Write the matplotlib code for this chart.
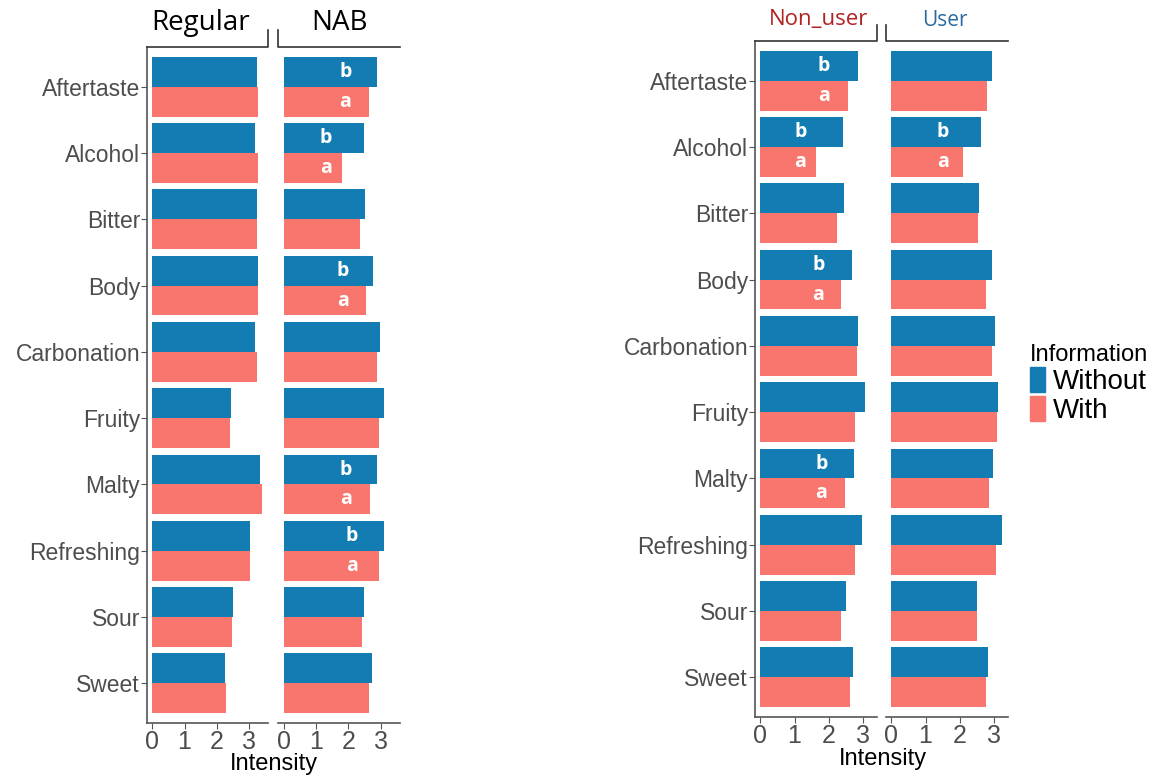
import matplotlib.pyplot as plt
from matplotlib.lines import Line2D
from matplotlib.patches import Patch

W, H = 1159, 776

attributes = ['Aftertaste', 'Alcohol', 'Bitter', 'Body', 'Carbonation',
              'Fruity', 'Malty', 'Refreshing', 'Sour', 'Sweet']

# left figure: beer type
regular_without = [3.26, 3.20, 3.26, 3.30, 3.20, 2.46, 3.35, 3.05, 2.52, 2.25]
regular_with = [3.30, 3.30, 3.26, 3.30, 3.26, 2.43, 3.42, 3.05, 2.49, 2.28]
nab_without = [2.88, 2.50, 2.52, 2.78, 2.97, 3.10, 2.88, 3.10, 2.49, 2.75]
nab_with = [2.65, 1.82, 2.36, 2.55, 2.88, 2.94, 2.68, 2.94, 2.43, 2.65]
nab_sig = [1, 1, 0, 1, 0, 0, 1, 1, 0, 0]

# right figure: consumer type
nonuser_without = [2.86, 2.42, 2.45, 2.68, 2.86, 3.06, 2.74, 2.97, 2.50, 2.71]
nonuser_with = [2.57, 1.63, 2.25, 2.36, 2.83, 2.77, 2.48, 2.77, 2.36, 2.62]
nonuser_sig = [1, 1, 0, 1, 0, 0, 1, 0, 0, 0]
user_without = [2.94, 2.60, 2.57, 2.94, 3.03, 3.11, 2.97, 3.23, 2.51, 2.83]
user_with = [2.80, 2.09, 2.54, 2.77, 2.94, 3.09, 2.86, 3.06, 2.51, 2.77]
user_sig = [0, 1, 0, 0, 0, 0, 0, 0, 0, 0]

xticks = [0, 1, 2, 3]

BLUE = '#137DB3'
SALMON = '#F8766D'
AXCOL = '#555555'
TXTCOL = '#4D4D4D'
SANS = ['Liberation Sans', 'DejaVu Sans']
STRIP = ['Open Sans', 'DejaVu Sans']


def add_ax(fig, x0, y0, x1, y1):
    return fig.add_axes([x0 / W, 1 - y1 / H, (x1 - x0) / W, (y1 - y0) / H])


def panel(ax, without, with_, sig, xlim, show_y):
    ypos = list(range(len(attributes)))
    ax.barh([y - 0.225 for y in ypos], without, height=0.45, color=BLUE)
    ax.barh([y + 0.225 for y in ypos], with_, height=0.45, color=SALMON)
    for y, s, w in zip(ypos, sig, with_):
        if s:
            xl = 0.72 * w
            ax.text(xl, y - 0.225, 'b', color='white', ha='center', va='center',
                    fontsize=14, fontweight='bold', family=STRIP)
            ax.text(xl, y + 0.225, 'a', color='white', ha='center', va='center',
                    fontsize=14, fontweight='bold', family=STRIP)
    ax.set_xlim(*xlim)
    ax.set_ylim(len(attributes) - 0.4, -0.6)
    ax.set_xticks(xticks)
    ax.set_xticklabels([str(t) for t in xticks], family=SANS, fontsize=18,
                       color=TXTCOL)
    ax.tick_params(axis='x', length=4, color=AXCOL, pad=1)
    for s in ['top', 'right']:
        ax.spines[s].set_visible(False)
    ax.spines['bottom'].set_color(AXCOL)
    ax.spines['bottom'].set_linewidth(1.2)
    if show_y:
        ax.set_yticks(ypos)
        ax.set_yticklabels(attributes, family=SANS, fontsize=16.5, color=TXTCOL)
        ax.tick_params(axis='y', length=4, color=AXCOL, pad=1)
        ax.spines['left'].set_color(AXCOL)
        ax.spines['left'].set_linewidth(1.2)
    else:
        ax.set_yticks([])
        ax.spines['left'].set_visible(False)


def fig_line(fig, xs, ys):
    fig.add_artist(Line2D([x / W for x in xs], [1 - y / H for y in ys],
                          color='#333333', lw=1.2))


fig = plt.figure(figsize=(W / 100, H / 100), dpi=100)

# left figure
ax1 = add_ax(fig, 147, 47, 268, 723)
panel(ax1, regular_without, regular_with, [0] * 10, (-0.17, 3.6), True)
ax2 = add_ax(fig, 278, 47, 400, 723)
panel(ax2, nab_without, nab_with, nab_sig, (-0.17, 3.6), False)
fig_line(fig, [147, 268, 268], [47, 47, 30])
fig_line(fig, [278, 278, 400], [30, 47, 47])
fig.text(201 / W, 1 - 23 / H, 'Regular', ha='center', va='center', fontsize=20,
         family=STRIP, color='black')
fig.text(340 / W, 1 - 23 / H, 'NAB', ha='center', va='center', fontsize=20,
         family=STRIP, color='black')
fig.text(274 / W, 1 - 764 / H, 'Intensity', ha='center', va='center',
         fontsize=17, family=SANS, color='black')

# right figure
ax3 = add_ax(fig, 755, 41, 877, 717)
panel(ax3, nonuser_without, nonuser_with, nonuser_sig, (-0.15, 3.4), True)
ax4 = add_ax(fig, 886, 41, 1008, 717)
panel(ax4, user_without, user_with, user_sig, (-0.15, 3.4), False)
fig_line(fig, [755, 877, 877], [41, 41, 25])
fig_line(fig, [886, 886, 1008], [25, 41, 41])
fig.text(819 / W, 1 - 20 / H, 'Non_user', ha='center', va='center', fontsize=16,
         family=STRIP, color='#B22222')
fig.text(945 / W, 1 - 20 / H, 'User', ha='center', va='center', fontsize=15,
         family=STRIP, color='#2A6AA0')
fig.text(883 / W, 1 - 759 / H, 'Intensity', ha='center', va='center',
         fontsize=17, family=SANS, color='black')

# legend
handles = [Patch(color=BLUE), Patch(color=SALMON)]
leg = fig.legend(handles, ['Without', 'With'], title='Information',
                 loc='upper left', bbox_to_anchor=(1024 / W, 1 - 338 / H),
                 frameon=False, prop={'family': SANS, 'size': 20},
                 handlelength=0.55, handleheight=1.0, handletextpad=0.3,
                 labelspacing=0.05, borderaxespad=0, borderpad=0.2)
leg.get_title().set_fontsize(17)
leg.get_title().set_family(SANS)
leg._legend_box.align = 'left'

fig.savefig('out.png', dpi=100)
